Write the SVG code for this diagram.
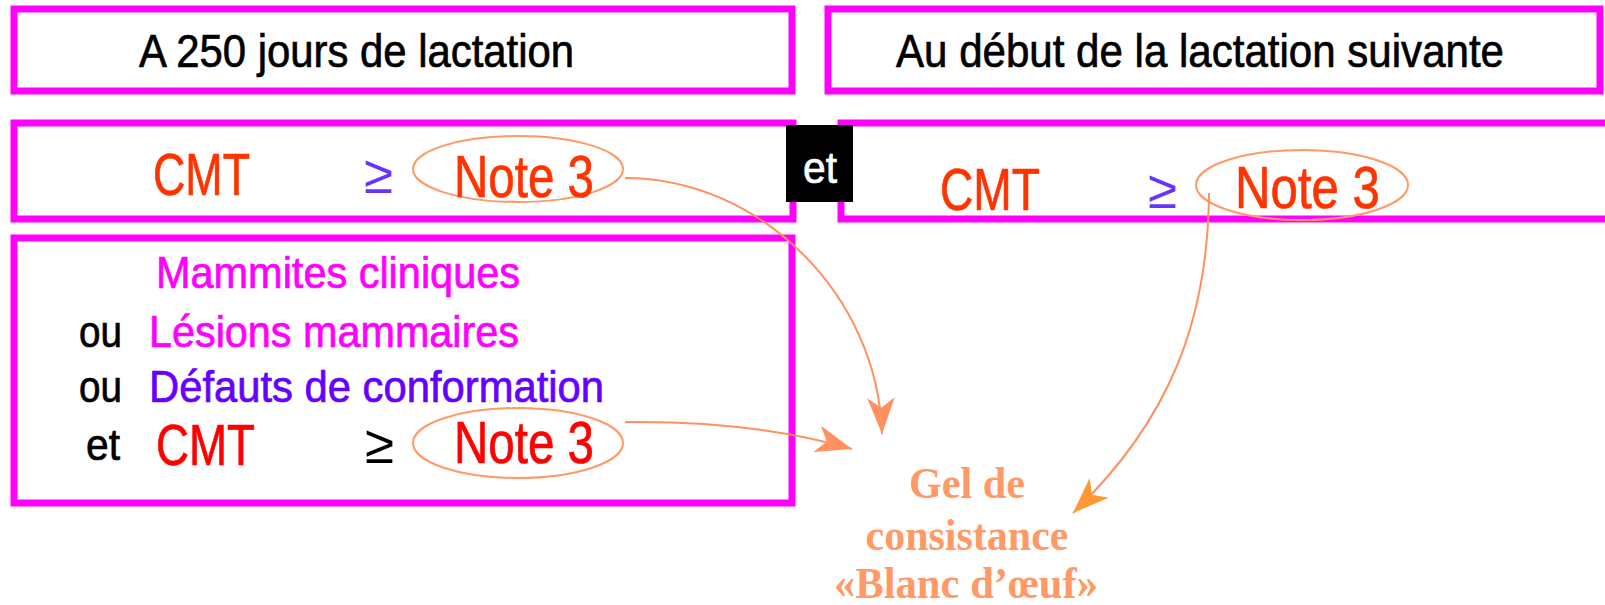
<svg xmlns="http://www.w3.org/2000/svg" width="1605" height="605" viewBox="0 0 1605 605">
<style>
.box{fill:none;stroke:#FF00FF;stroke-width:7}
.sans{font-family:"Liberation Sans",Arial,sans-serif;stroke-width:0.7}
.oval{fill:none;stroke:#FF9966;stroke-width:2}
.conn{fill:none;stroke:#FF9060;stroke-width:2}
.gel{font-family:"Liberation Serif","Times New Roman",serif;font-weight:bold;font-size:45px;fill:#FF9966;text-anchor:middle}
</style>
<defs>
<marker id="ah" markerUnits="userSpaceOnUse" markerWidth="40" markerHeight="40" viewBox="-30 -15 32 30" refX="0" refY="0" orient="auto">
<path d="M0,0 L-29,-11 L-21,0 L-29,11 Z" fill="#FF9060"/>
</marker>
<marker id="ah2" markerUnits="userSpaceOnUse" markerWidth="40" markerHeight="40" viewBox="-30 -15 32 30" refX="0" refY="0" orient="auto">
<path d="M0,0 L-29,-11 L-21,0 L-29,11 Z" fill="#FF9933"/>
</marker>
</defs>
<rect width="1605" height="605" fill="#FFFFFF"/>

<g id="header-left">
<rect class="box" x="14" y="9" width="778" height="82"/>
<text class="sans" x="139" y="67" font-size="47" textLength="435" lengthAdjust="spacingAndGlyphs" fill="#000" stroke="#000">A 250 jours de lactation</text>
</g>

<g id="header-right">
<rect class="box" x="828" y="9" width="772" height="82"/>
<text class="sans" x="896" y="67" font-size="47" textLength="608" lengthAdjust="spacingAndGlyphs" fill="#000" stroke="#000">Au début de la lactation suivante</text>
</g>

<g id="cmt-left">
<rect class="box" x="14" y="123" width="779" height="96"/>
<text class="sans" x="153" y="195" font-size="59" textLength="97" lengthAdjust="spacingAndGlyphs" fill="#FF3300" stroke="#FF3300">CMT</text>
<text class="sans" x="364" y="193" font-size="54" textLength="29" lengthAdjust="spacingAndGlyphs" fill="#6633FF">≥</text>
<ellipse class="oval" cx="518" cy="169" rx="105" ry="33"/>
<text class="sans" x="454" y="197" font-size="59" textLength="140" lengthAdjust="spacingAndGlyphs" fill="#FF3300" stroke="#FF3300">Note 3</text>
</g>

<g id="cmt-right">
<rect class="box" x="841" y="123" width="780" height="96"/>
<text class="sans" x="940" y="210" font-size="59" textLength="100" lengthAdjust="spacingAndGlyphs" fill="#FF3300" stroke="#FF3300">CMT</text>
<text class="sans" x="1148" y="208" font-size="54" textLength="29" lengthAdjust="spacingAndGlyphs" fill="#6633FF">≥</text>
<ellipse class="oval" cx="1302" cy="185" rx="106" ry="35"/>
<text class="sans" x="1235" y="208" font-size="59" textLength="145" lengthAdjust="spacingAndGlyphs" fill="#FF3300" stroke="#FF3300">Note 3</text>
</g>

<g id="et-label">
<rect x="786" y="125" width="67" height="77" fill="#000"/>
<text class="sans" x="803" y="183" font-size="44" textLength="34" lengthAdjust="spacingAndGlyphs" fill="#FFF" stroke="#FFF">et</text>
</g>

<g id="conditions">
<rect class="box" x="14" y="238" width="778" height="265"/>
<text class="sans" x="156" y="288" font-size="44" textLength="364" lengthAdjust="spacingAndGlyphs" fill="#FF00FF" stroke="#FF00FF">Mammites cliniques</text>
<text class="sans" x="79" y="347" font-size="44" textLength="43" lengthAdjust="spacingAndGlyphs" fill="#000" stroke="#000">ou</text>
<text class="sans" x="149" y="347" font-size="44" textLength="370" lengthAdjust="spacingAndGlyphs" fill="#FF00FF" stroke="#FF00FF">Lésions mammaires</text>
<text class="sans" x="79" y="402" font-size="44" textLength="43" lengthAdjust="spacingAndGlyphs" fill="#000" stroke="#000">ou</text>
<text class="sans" x="149" y="402" font-size="44" textLength="455" lengthAdjust="spacingAndGlyphs" fill="#6600FF" stroke="#6600FF">Défauts de conformation</text>
<text class="sans" x="86" y="460" font-size="44" textLength="34" lengthAdjust="spacingAndGlyphs" fill="#000" stroke="#000">et</text>
<text class="sans" x="156" y="465" font-size="57" textLength="99" lengthAdjust="spacingAndGlyphs" fill="#FF0000" stroke="#FF0000">CMT</text>
<text class="sans" x="365" y="463" font-size="54" textLength="29" lengthAdjust="spacingAndGlyphs" fill="#000">≥</text>
<ellipse class="oval" cx="518" cy="443" rx="105" ry="35"/>
<text class="sans" x="454" y="463" font-size="59" textLength="140" lengthAdjust="spacingAndGlyphs" fill="#FF0000" stroke="#FF0000">Note 3</text>
</g>

<g id="result">
<text class="gel" x="967" y="498" textLength="116" lengthAdjust="spacingAndGlyphs">Gel de</text>
<text class="gel" x="967" y="550" textLength="203" lengthAdjust="spacingAndGlyphs">consistance</text>
<text class="gel" x="966" y="598" textLength="264" lengthAdjust="spacingAndGlyphs">«Blanc d’œuf»</text>
</g>

<g id="connectors">
<path class="conn" d="M625,178 C760,178 878,295 882,434" marker-end="url(#ah)"/>
<path class="conn" d="M625,422 C700,421 780,428 852,449" marker-end="url(#ah)"/>
<path class="conn" d="M1209,193 C1208,320 1170,420 1073,513" stroke="#FF9933" marker-end="url(#ah2)"/>
</g>
</svg>
